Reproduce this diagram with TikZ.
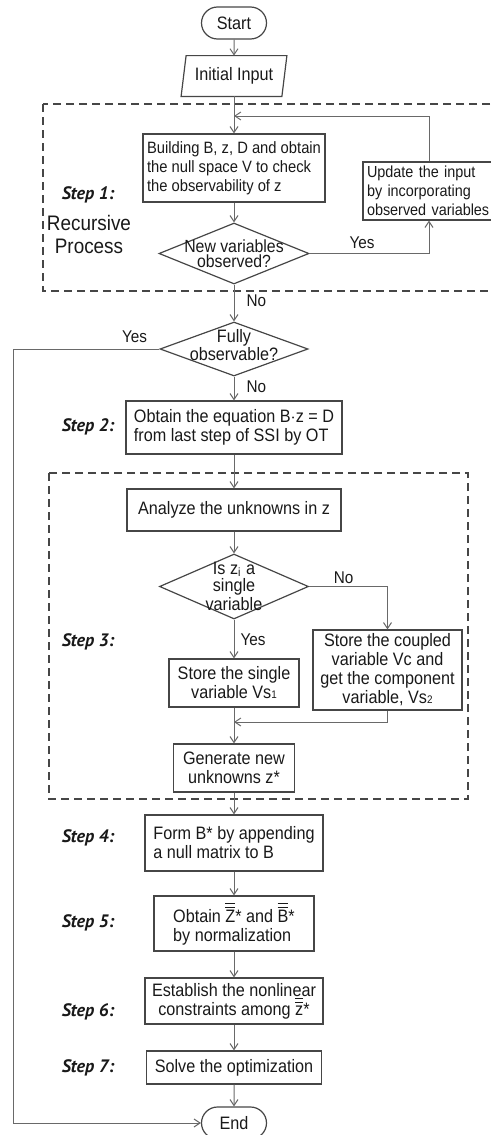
\documentclass[tikz,border=0pt]{standalone}
\usepackage{fontspec}
\setmainfont{Liberation Sans}[FakeStretch=0.9]
\newfontfamily\stepfont{PT Sans}
\usetikzlibrary{arrows.meta,shapes.geometric,shapes.misc,calc}
\definecolor{wire}{RGB}{105,105,105}
\definecolor{frame}{RGB}{70,70,70}
\definecolor{ink}{RGB}{25,25,25}
\newcommand{\dblbar}[1]{$\overline{\overline{\mbox{#1}}}$}
\newcommand{\sm}[1]{{\fontsize{5.5}{5.5}\selectfont #1}}

\tikzset{
  box/.style={draw=frame,line width=0.6pt,text=ink,inner sep=2pt,font=\fontsize{9}{9.5}\selectfont},
  term/.style={box,rounded rectangle,minimum width=36.5pt,minimum height=16pt},
  dec/.style={draw=frame,line width=0.6pt,diamond,inner sep=0pt},
  dectext/.style={text=ink,inner sep=0pt,align=center},
  arr/.style={draw=wire,line width=0.5pt,-{Straight Barb[length=3pt,width=4pt]}},
  lbl/.style={text=ink,inner sep=1pt,font=\fontsize{8.5}{9.5}\selectfont},
  steplbl/.style={text=ink,font=\stepfont\bfseries\itshape\fontsize{9}{10}\selectfont},
  grp/.style={draw=frame,line width=0.6pt,dash pattern=on 4pt off 2.5pt},
}

\begin{document}
\begin{tikzpicture}[x=0.5pt,y=-0.5pt]
  \useasboundingbox (0,0) rectangle (491,1135);

  % groups
  \draw[grp] (43,104) rectangle (502,291);
  \draw[grp] (49,473) rectangle (468,799);

  % main column
  \node[term] (start) at (234,23) {Start};
  \node[text=ink,font=\fontsize{9}{9.5}\selectfont,minimum width=50pt,minimum height=20pt] (init) at (234,76) {Initial Input};
  \draw[draw=frame,line width=0.6pt] ($(init.north west)+(2.5,0)$) -- ($(init.north east)+(2.5,0)$)
    -- ($(init.south east)+(-2.5,0)$) -- ($(init.south west)+(-2.5,0)$) -- cycle;
  \coordinate (loopin) at (234,116);
  \node[box,align=left,font=\fontsize{8.2}{9.5}\selectfont,minimum width=89.5pt,minimum height=34pt] (build) at (234,168)
    {Building B, z, D and obtain\\the null space V to check\\the observability of z};
  \node[box,align=left,font=\fontsize{8}{9.5}\selectfont,text width=62pt,minimum height=29pt] (upd) at (429,191)
    {Update the input\\by incorporating\\observed variables};
  \node[dec,minimum width=75pt,minimum height=30.5pt] (newvar) at (234,253.5) {};
  \node[dectext,font=\fontsize{8.8}{7.6}\selectfont] at (newvar.center) {New variables\\observed?};
  \node[dec,minimum width=74pt,minimum height=27pt] (full) at (234,349) {};
  \node[dectext,font=\fontsize{9}{9}\selectfont] at ([yshift=2pt]full.center) {Fully\\observable?};
  \coordinate (rail) at (13,349);
  \node[box,align=left,minimum width=108pt,minimum height=26.5pt] (eq) at (234,427.5)
    {Obtain the equation B$\cdot$z = D\\from last step of SSI by OT};
  \node[box,align=left,minimum width=107pt,minimum height=21pt] (analyze) at (234,510)
    {Analyze the unknowns in z};
  \node[dec,minimum width=74.5pt,minimum height=32.5pt] (single) at (234,586.5) {};
  \node[dectext,font=\fontsize{9}{7.5}\selectfont] at (single.center) {Is z\textsubscript{i} a\\single\\variable};
  \node[box,align=center,inner ysep=1pt,minimum width=74.5pt,minimum height=40pt] (coupled) at (387.5,670)
    {Store the coupled\\variable Vc and\\get the component\\variable, Vs\sm{2}};
  \node[box,align=center,minimum width=65pt,minimum height=24pt] (stsingle) at (234,683)
    {Store the single\\variable Vs\sm{1}};
  \coordinate (merge) at (234,722);
  \node[box,align=center,minimum width=60.5pt,minimum height=24pt] (gen) at (234,768)
    {Generate new\\unknowns z*};
  \node[box,align=left,minimum width=89pt,minimum height=28pt] (formb) at (234,843)
    {Form B* by appending\\a null matrix to B};
  \node[box,align=left,minimum width=80pt,minimum height=27.5pt] (norm) at (234,923.5)
    {Obtain \dblbar{Z}* and \dblbar{B}*\\by normalization};
  \node[box,align=center,minimum width=89pt,minimum height=23pt] (cons) at (234,1001)
    {Establish the nonlinear\\constraints among \dblbar{z}*};
  \node[box,align=center,minimum width=87.5pt,minimum height=16.5pt] (solve) at (234,1067.5)
    {Solve the optimization};
  \node[term] (endn) at (234,1123) {End};

  % step labels
  \node[steplbl] (s1) at (88,195) {Step 1:};
  \node[text=ink,align=center,font=\fontsize{10.5}{11.5}\selectfont] (rec) at (89,234) {Recursive\\Process};
  \node[steplbl] (s2) at (88,427) {Step 2:};
  \node[steplbl] (s3) at (88,642) {Step 3:};
  \node[steplbl] (s4) at (88,838) {Step 4:};
  \node[steplbl] (s5) at (88,923) {Step 5:};
  \node[steplbl] (s6) at (88,1012) {Step 6:};
  \node[steplbl] (s7) at (88,1068) {Step 7:};

  % connectors
  \draw[arr] (start) -- (init);
  \draw[arr] (init) -- (build);
  \draw[arr] (build) -- (newvar);
  \draw[arr] (newvar.east) -| node[lbl,pos=0.22,above=1pt]{Yes} (upd.south);
  \draw[arr] (upd.north) |- (loopin);
  \draw[arr] (newvar.south) -- node[lbl,pos=0.45,right=5pt]{No} (full.north);
  \draw[arr] (full.west) -- node[lbl,pos=0.17,above=2pt]{Yes} (rail) |- (endn.west);
  \draw[arr] (full.south) -- node[lbl,pos=0.44,right=5pt]{No} (eq.north);
  \draw[arr] (eq) -- (analyze);
  \draw[arr] (analyze) -- (single);
  \draw[arr] (single.east) -| node[lbl,pos=0.22,above=0pt]{No} (coupled.north);
  \draw[arr] (single.south) -- node[lbl,pos=0.52,right=2pt]{Yes} (stsingle.north);
  \draw[arr] (coupled.south) |- (merge);
  \draw[arr] (stsingle) -- (gen);
  \draw[arr] (gen) -- (formb);
  \draw[arr] (formb) -- (norm);
  \draw[arr] (norm) -- (cons);
  \draw[arr] (cons) -- (solve);
  \draw[arr] (solve) -- (endn);
\end{tikzpicture}
\end{document}
